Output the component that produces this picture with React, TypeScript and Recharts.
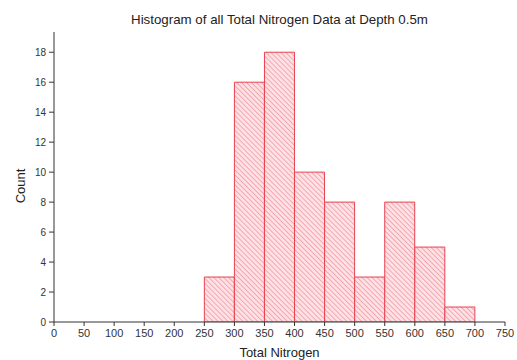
import React from "react";
import { ComposedChart, Bar, XAxis, YAxis } from "recharts";

const binStarts = [250, 300, 350, 400, 450, 500, 550, 600, 650];
const binWidth = 50;
const counts = [3, 16, 18, 10, 8, 3, 8, 5, 1];
const xTicks = [0, 50, 100, 150, 200, 250, 300, 350, 400, 450, 500, 550, 600, 650, 700, 750];
const yTicks = [0, 2, 4, 6, 8, 10, 12, 14, 16, 18];
const yMinorTicks = [1, 3, 5, 7, 9, 11, 13, 15, 17, 19];

const data = binStarts.map((s, i) => ({ mid: s + binWidth / 2, count: counts[i] }));

const FONT = "'Liberation Sans', Arial, sans-serif";
const Y_MAX = 19.35;

const CountLabel = () => (
  <text
    x={20}
    y={186}
    transform="rotate(-90 20 186)"
    textAnchor="middle"
    dominantBaseline="central"
    fill="#222"
    fontSize={13}
    fontFamily={FONT}
  >
    Count
  </text>
);

export default function App() {
  return (
    <div style={{ position: "absolute", left: 0, top: 0, width: 517, height: 360, background: "#fff" }}>
      <div
        style={{
          position: "absolute",
          left: 54,
          width: 451,
          top: 12,
          textAlign: "center",
          fontFamily: FONT,
          fontSize: 13.3,
          color: "#222",
        }}
      >
        Histogram of all Total Nitrogen Data at Depth 0.5m
      </div>
      <ComposedChart
        width={517}
        height={360}
        data={data}
        margin={{ top: 32, right: 12, bottom: 0, left: 0 }}
        barCategoryGap={0}
        barGap={0}
      >
        <defs>
          <pattern id="hatch" patternUnits="userSpaceOnUse" width="3.5" height="3.5" patternTransform="rotate(-45)">
            <rect width="3.5" height="3.5" fill="#fde1e4" />
            <line x1="0" y1="0" x2="0" y2="3.5" stroke="#f1929d" strokeWidth="1.4" />
          </pattern>
        </defs>
        <XAxis
          dataKey="mid"
          type="number"
          domain={[0, 750]}
          ticks={xTicks}
          interval={0}
          allowDataOverflow
          height={38}
          tickSize={4}
          tickMargin={3}
          stroke="#333"
          tick={{ fill: "#333", fontSize: 11, fontFamily: FONT }}
          label={{ value: "Total Nitrogen", position: "insideBottom", offset: 3, fill: "#222", fontSize: 13, fontFamily: FONT }}
        />
        <XAxis xAxisId="top" orientation="top" type="number" domain={[0, 750]} tick={false} tickLine={false} stroke="#cfcfcf" height={0} />
        <YAxis
          yAxisId="minor"
          type="number"
          domain={[0, Y_MAX]}
          ticks={yMinorTicks}
          interval={0}
          allowDataOverflow
          width={0}
          tickSize={3}
          tick={{ fontSize: 0 }}
          axisLine={false}
          stroke="#333"
        />
        <YAxis
          type="number"
          domain={[0, Y_MAX]}
          ticks={yTicks}
          interval={0}
          allowDataOverflow
          width={54}
          tickSize={5}
          tickMargin={3}
          stroke="#333"
          tick={{ fill: "#333", fontSize: 10, fontFamily: FONT }}
          label={{ content: CountLabel }}
        />
        <YAxis yAxisId="right" orientation="right" type="number" domain={[0, Y_MAX]} tick={false} tickLine={false} stroke="#cfcfcf" width={0} />
        <Bar dataKey="count" fill="url(#hatch)" stroke="#e8404f" strokeWidth={1} isAnimationActive={false} />
      </ComposedChart>
    </div>
  );
}
